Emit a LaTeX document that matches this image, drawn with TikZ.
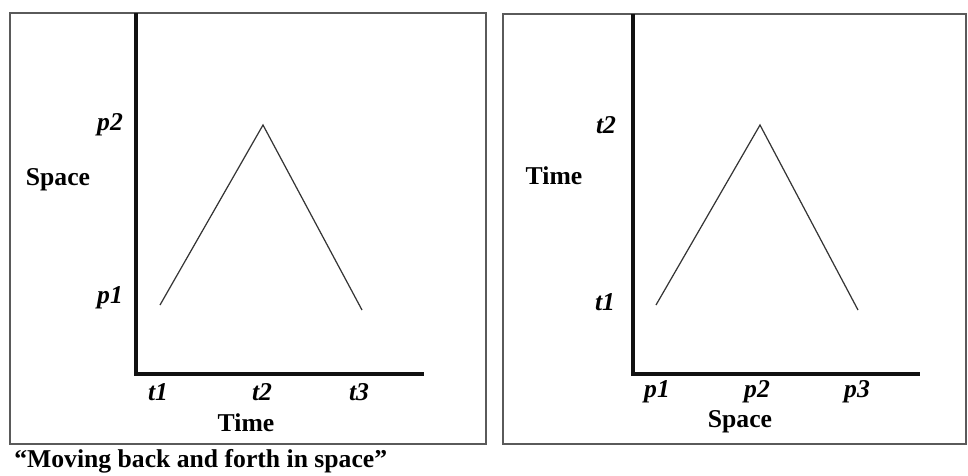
\documentclass[tikz,border=0pt]{standalone}
\usepackage{fontspec}
\setmainfont{Liberation Serif}
\usepackage{tikz}
\usetikzlibrary{positioning,calc}
\definecolor{Frame}{HTML}{5A5A5A}
\definecolor{Ink}{HTML}{111111}
\tikzset{
  panel/.style={draw=Frame,line width=1.1pt},
  axis/.style={draw=Ink,line width=1.8pt},
  path/.style={draw=Ink!85,line width=0.7pt},
  tick/.style={font=\fontsize{14.6}{17}\selectfont\bfseries\itshape,inner sep=0pt},
  axlabel/.style={font=\fontsize{14.6}{17}\selectfont\bfseries,inner sep=0pt}
}
\begin{document}
\begin{tikzpicture}[x=0.2mm,y=-0.2mm]
      \useasboundingbox (0,0) rectangle (968,475);

      % left panel: space over time
      \draw[panel] (10,13) rectangle (486,444);
      \coordinate (Ltop) at (136,13);
      \coordinate (Lorig) at (136,374);
      \coordinate (Lend) at (424,374);
      \draw[axis] (Ltop) -- (Lorig) -- (Lend);

      \coordinate (La) at (160,305);
      \coordinate (Lb) at (263,125);
      \coordinate (Lc) at (362,310);
      \draw[path] (La) -- (Lb) -- (Lc);

      \node[tick] (lp2) at (110,125) {p2};
      \node[tick] (lp1) at (110,298) {p1};
      \node[axlabel] (lspace) at (58,180) {Space};
      \node[tick] (lt1) at (158,392) {t1};
      \node[tick] (lt2) at (262,392) {t2};
      \node[tick] (lt3) at (359,392) {t3};
      \node[axlabel] (ltime) at (246,423) {Time};

      \node[axlabel,anchor=west] (caption) at (14,461) {``Moving back and forth in space''};

      % right panel: time over space
      \draw[panel] (503,14) rectangle (966,444);
      \coordinate (Rtop) at (633,14);
      \coordinate (Rorig) at (633,374);
      \coordinate (Rend) at (920,374);
      \draw[axis] (Rtop) -- (Rorig) -- (Rend);

      \coordinate (Ra) at (656,305);
      \coordinate (Rb) at (760,125);
      \coordinate (Rc) at (858,310);
      \draw[path] (Ra) -- (Rb) -- (Rc);

      \node[tick] (rt2) at (606,125) {t2};
      \node[tick] (rt1) at (605,302) {t1};
      \node[axlabel] (rtime) at (554,176) {Time};
      \node[tick] (rp1) at (657,392) {p1};
      \node[tick] (rp2) at (757,392) {p2};
      \node[tick] (rp3) at (857,392) {p3};
      \node[axlabel] (rspace) at (740,422) {Space};
    \end{tikzpicture}
\end{document}
